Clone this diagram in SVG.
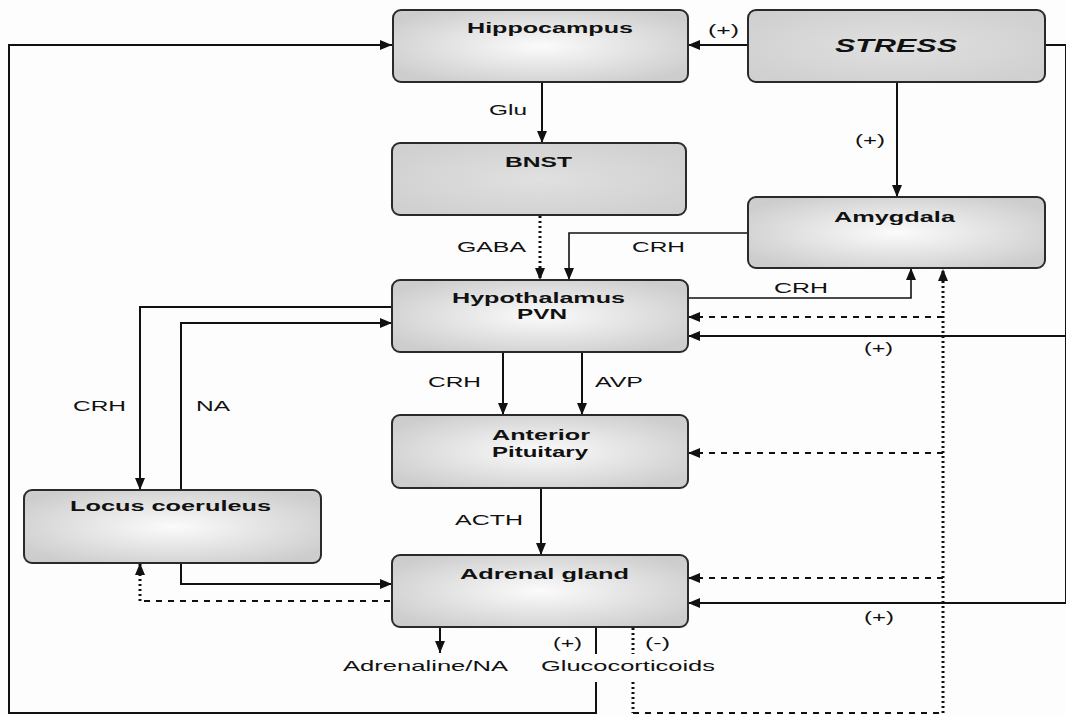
<svg xmlns="http://www.w3.org/2000/svg" width="1066" height="715" viewBox="0 0 1066 715">
<defs>
<radialGradient id="g1" cx="50%" cy="50%" r="60%">
<stop offset="0" stop-color="#fbfbfb"/>
<stop offset="1" stop-color="#cdcdcd"/>
</radialGradient>
<radialGradient id="g2" cx="50%" cy="50%" r="60%">
<stop offset="0" stop-color="#e0e0e0"/>
<stop offset="1" stop-color="#d0d0d0"/>
</radialGradient>
<marker id="ah" markerUnits="userSpaceOnUse" viewBox="0 0 12 10" refX="12" refY="5" markerWidth="12" markerHeight="10" orient="auto">
<path d="M0,0 L12,5 L0,10 z" fill="#111"/>
</marker>
</defs>
<style>
.box{fill:url(#g1);stroke:#2a2a2a;stroke-width:2}
.dark{fill:url(#g2)}
.t{font-family:"Liberation Sans",Arial,sans-serif;fill:#111}
.b{font-weight:bold;font-size:14.5px}
.r{font-size:14.5px}
.s{fill:none;stroke:#111;stroke-width:2}
.thin{stroke-width:1.6}
.da{fill:none;stroke:#111;stroke-width:2;stroke-dasharray:6,6}
.do{fill:none;stroke:#111;stroke-width:3;stroke-dasharray:2,3}
</style>
<rect width="1066" height="715" fill="#fdfdfd"/>

<g id="connectors">
<path class="s" d="M748,45 L688,45" marker-end="url(#ah)"/>
<path class="s" d="M596,627 L596,654"/>
<path class="s" d="M596,682 L596,713 L9,713 L9,45 L392,45" marker-end="url(#ah)"/>
<path class="s" d="M542,82 L542,143" marker-end="url(#ah)"/>
<path class="do" d="M540,216 L540,280" marker-end="url(#ah)"/>
<path class="s thin" d="M748,233 L569,233 L569,280" marker-end="url(#ah)"/>
<path class="s" d="M897,82 L897,197" marker-end="url(#ah)"/>
<path class="s thin" d="M688,298 L911,298 L911,268" marker-end="url(#ah)"/>
<path class="do" d="M633,628 L633,654"/>
<path class="do" d="M633,682 L633,713"/>
<path class="da" d="M633,713 L943,713"/>
<path class="do" d="M943,713 L943,269" marker-end="url(#ah)"/>
<path class="da" d="M943,317 L688,317" marker-end="url(#ah)"/>
<path class="da" d="M943,453 L688,453" marker-end="url(#ah)"/>
<path class="da" d="M943,578 L688,578" marker-end="url(#ah)"/>
<path class="s" d="M1045,45 L1066,45 L1066,603 L688,603" marker-end="url(#ah)"/>
<path class="s" d="M1066,336 L688,336" marker-end="url(#ah)"/>
<path class="s" d="M392,307 L140,307 L140,490" marker-end="url(#ah)"/>
<path class="s" d="M181,490 L181,323 L392,323" marker-end="url(#ah)"/>
<path class="s" d="M503,352 L503,415" marker-end="url(#ah)"/>
<path class="s" d="M582,352 L582,415" marker-end="url(#ah)"/>
<path class="s" d="M541,488 L541,555" marker-end="url(#ah)"/>
<path class="s" d="M181,563 L181,584 L392,584" marker-end="url(#ah)"/>
<path class="da" d="M390,601 L140,601"/>
<path class="do" d="M140,601 L140,563" marker-end="url(#ah)"/>
<path class="s" d="M440,627 L440,653" marker-end="url(#ah)"/>

<text class="t r" x="708" y="35" textLength="31" lengthAdjust="spacingAndGlyphs">(+)</text>
<text class="t r" x="489" y="115" textLength="38" lengthAdjust="spacingAndGlyphs">Glu</text>
<text class="t r" x="855" y="145" textLength="30" lengthAdjust="spacingAndGlyphs">(+)</text>
<text class="t r" x="457" y="252" textLength="69" lengthAdjust="spacingAndGlyphs">GABA</text>
<text class="t r" x="632" y="252" textLength="53" lengthAdjust="spacingAndGlyphs">CRH</text>
<text class="t r" x="774" y="293" textLength="54" lengthAdjust="spacingAndGlyphs">CRH</text>
<text class="t r" x="864" y="353" textLength="29" lengthAdjust="spacingAndGlyphs">(+)</text>
<text class="t r" x="73" y="411" textLength="53" lengthAdjust="spacingAndGlyphs">CRH</text>
<text class="t r" x="196" y="411" textLength="34" lengthAdjust="spacingAndGlyphs">NA</text>
<text class="t r" x="428" y="387" textLength="53" lengthAdjust="spacingAndGlyphs">CRH</text>
<text class="t r" x="595" y="387" textLength="48" lengthAdjust="spacingAndGlyphs">AVP</text>
<text class="t r" x="455" y="525" textLength="68" lengthAdjust="spacingAndGlyphs">ACTH</text>
<text class="t r" x="864" y="622" textLength="30" lengthAdjust="spacingAndGlyphs">(+)</text>
<text class="t r" x="553" y="648" textLength="29" lengthAdjust="spacingAndGlyphs">(+)</text>
<text class="t r" x="645" y="648" textLength="25" lengthAdjust="spacingAndGlyphs">(-)</text>
<text class="t r" x="343" y="671" textLength="165" lengthAdjust="spacingAndGlyphs">Adrenaline/NA</text>
<text class="t r" x="541" y="671" textLength="174" lengthAdjust="spacingAndGlyphs">Glucocorticoids</text>
</g>

<g id="hippocampus">
<rect class="box" x="393" y="10" width="295" height="72" rx="8"/>
<text class="t b" x="467" y="33" textLength="166" lengthAdjust="spacingAndGlyphs">Hippocampus</text>
</g>
<g id="stress">
<rect class="box dark" x="748" y="10" width="297" height="72" rx="8"/>
<text class="t" x="835" y="52" font-size="18" font-weight="bold" font-style="italic" textLength="122" lengthAdjust="spacingAndGlyphs">STRESS</text>
</g>
<g id="bnst">
<rect class="box dark" x="392" y="143" width="294" height="72" rx="8"/>
<text class="t b" x="505" y="167" textLength="67" lengthAdjust="spacingAndGlyphs">BNST</text>
</g>
<g id="amygdala">
<rect class="box" x="748" y="197" width="297" height="71" rx="8"/>
<text class="t b" x="834" y="222" textLength="121" lengthAdjust="spacingAndGlyphs">Amygdala</text>
</g>
<g id="hypothalamus">
<rect class="box" x="392" y="280" width="296" height="72" rx="8"/>
<text class="t b" x="452" y="303" textLength="173" lengthAdjust="spacingAndGlyphs">Hypothalamus</text>
<text class="t b" x="517" y="319" textLength="50" lengthAdjust="spacingAndGlyphs">PVN</text>
</g>
<g id="pituitary">
<rect class="box" x="392" y="415" width="296" height="73" rx="8"/>
<text class="t b" x="492" y="440" textLength="98" lengthAdjust="spacingAndGlyphs">Anterior</text>
<text class="t b" x="492" y="457" textLength="96" lengthAdjust="spacingAndGlyphs">Pituitary</text>
</g>
<g id="adrenal">
<rect class="box" x="392" y="555" width="296" height="72" rx="8"/>
<text class="t b" x="460" y="579" textLength="169" lengthAdjust="spacingAndGlyphs">Adrenal gland</text>
</g>
<g id="locus">
<rect class="box" x="24" y="490" width="297" height="73" rx="8"/>
<text class="t b" x="70" y="511" textLength="201" lengthAdjust="spacingAndGlyphs">Locus coeruleus</text>
</g>
</svg>
